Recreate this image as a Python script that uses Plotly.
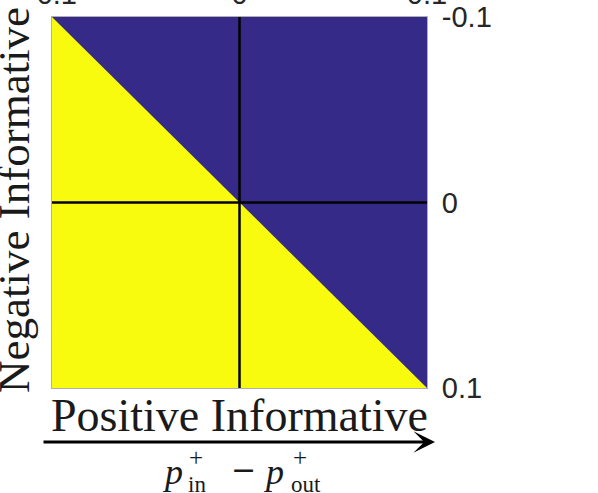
import plotly.graph_objects as go

# ---- data ----
tick_values = [-0.1, 0.0, 0.1]
tick_labels = ["-0.1", "0", "0.1"]

# full region (background class) and the region where negative informativeness wins
square_x = [-0.1, 0.1, 0.1, -0.1]
square_y = [-0.1, -0.1, 0.1, 0.1]
yellow_x = [-0.1, 0.1, -0.1]
yellow_y = [-0.1, 0.1, 0.1]

# zero divider lines
vline_x = [0.0, 0.0]
vline_y = [-0.1, 0.1]
hline_x = [-0.1, 0.1]
hline_y = [0.0, 0.0]

BLUE = "#352a87"
YELLOW = "#f9fb0e"

W, H = 598, 493
L, R, T, B = 52, 427, 17, 388

fig = go.Figure()
fig.add_trace(go.Scatter(x=square_x, y=square_y, fill="toself", fillcolor=BLUE,
                         mode="lines", line=dict(width=0, color=BLUE), hoverinfo="skip"))
fig.add_trace(go.Scatter(x=yellow_x, y=yellow_y, fill="toself", fillcolor=YELLOW,
                         mode="lines", line=dict(width=0, color=YELLOW), hoverinfo="skip"))
fig.add_trace(go.Scatter(x=vline_x, y=vline_y, mode="lines",
                         line=dict(color="black", width=2.5), hoverinfo="skip"))
fig.add_trace(go.Scatter(x=hline_x, y=hline_y, mode="lines",
                         line=dict(color="black", width=2.5), hoverinfo="skip"))

tickfont = dict(family="Liberation Sans, Arial, sans-serif", size=29, color="#262626")
axis_common = dict(tickvals=tick_values, ticktext=tick_labels, tickfont=tickfont,
                   showgrid=False, zeroline=False, ticks="", showline=True,
                   linecolor="#b0b0b0", linewidth=1, mirror=True, fixedrange=True,
                   automargin=False)

fig.update_layout(
    width=W, height=H,
    margin=dict(l=L, r=W - R, t=T, b=H - B, pad=0),
    paper_bgcolor="white", plot_bgcolor="white",
    showlegend=False,
    xaxis=dict(range=[-0.1, 0.1], side="top", ticklabelstandoff=0, **axis_common),
    yaxis=dict(range=[0.1, -0.1], side="right", ticklabelstandoff=8, **axis_common),
)

serif = "Liberation Serif, Times New Roman, serif"
cx = (L + R) / 2


def ann(text, px, py, size, angle=0, italic=False, family=serif):
    t = f"<i>{text}</i>" if italic else text
    fig.add_annotation(text=t, xref="paper", yref="paper", x=0.5, y=0,
                       xshift=px - cx, yshift=B - py, showarrow=False,
                       xanchor="center", yanchor="middle", textangle=angle,
                       font=dict(family=family, size=size, color="#1a1a1a"))


# axis titles
ann("Positive Informative", 239, 415, 46)
ann("Negative Informative", 14, 200, 45, angle=-90)

# math label  p_in^+ - p_out^+
ann("p", 172, 472, 36, italic=True)
ann("+", 196, 457, 25)
ann("in", 197, 484, 23)
ann("\u2212", 243, 469, 30, family="DejaVu Serif")
ann("p", 273, 472, 36, italic=True)
ann("+", 300, 457, 25)
ann("out", 306, 484, 23)

# arrow along the bottom
fig.add_annotation(text="", xref="paper", yref="paper",
                   x=(435 - L) / (R - L), y=(B - 442) / (B - T),
                   ax=-(435 - 42), ay=0, axref="pixel", ayref="pixel",
                   showarrow=True, arrowhead=3, arrowwidth=3, arrowsize=1.2,
                   arrowcolor="black")

fig.write_html("out.html", config={"displayModeBar": False},
               post_script="document.body.style.margin='0';document.body.style.overflow='hidden';")
